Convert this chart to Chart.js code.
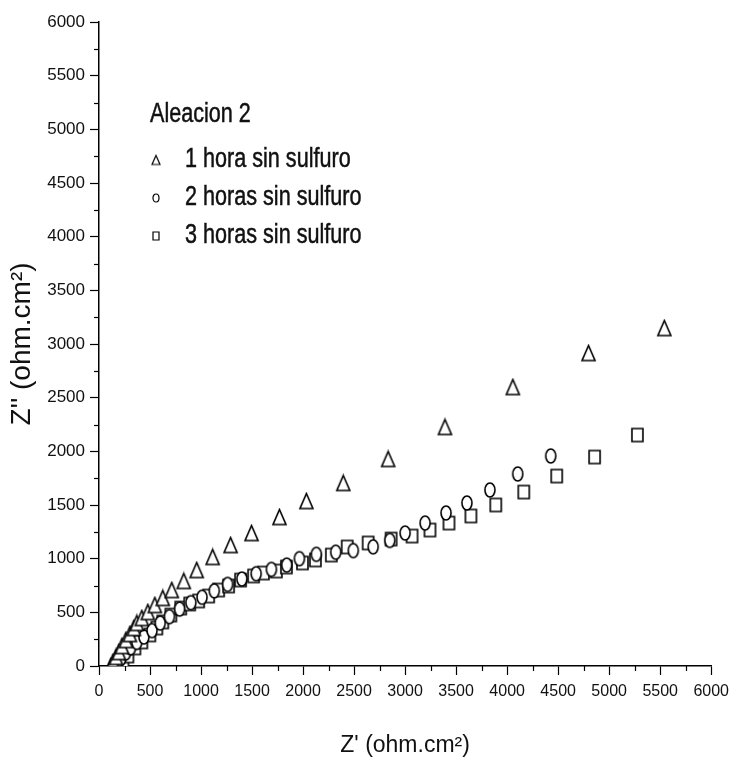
<!DOCTYPE html>
<html>
<head>
<meta charset="utf-8">
<script src="https://cdn.jsdelivr.net/npm/chart.js@4.4.1/dist/chart.umd.min.js"></script>
<style>
  html, body { margin: 0; padding: 0; background: #ffffff; }
  #wrap { width: 736px; height: 763px; position: relative; }
</style>
</head>
<body>
<div id="wrap"><canvas id="c" width="736" height="763"></canvas></div>
<script>
// ---- data ----
const legendTitle = 'Aleacion 2';
const seriesLabels = ['1 hora sin sulfuro', '2 horas sin sulfuro', '3 horas sin sulfuro'];
const xTitle = "Z' (ohm.cm²)";
const yTitle = "Z'' (ohm.cm²)";

const tri_x = [117,137,166,195,225,264,303,342,371,420,479,547,625,713,831,958,1114,1290,1495,1769,2033,2394,2834,3391,4056,4798,5541];
const tri_y = [0,37,84,130,186,242,298,354,401,447,503,568,634,708,792,894,1016,1127,1239,1388,1537,1705,1929,2227,2599,2916,3149];

const cir_x = [180,215,260,310,370,440,520,600,690,790,900,1010,1130,1260,1400,1540,1690,1840,1964,2130,2320,2492,2687,2850,3000,3196,3401,3606,3831,4104,4427];
const cir_y = [20,70,120,170,220,270,330,400,460,530,590,640,700,760,810,860,900,940,1000,1040,1060,1075,1110,1170,1239,1332,1426,1519,1640,1789,1957];

const sq_x = [235,283,352,420,498,567,625,704,801,889,977,1075,1173,1270,1388,1515,1612,1739,1837,1994,2121,2277,2433,2638,2863,3068,3244,3430,3645,3889,4163,4486,4857,5277];
const sq_y = [9,93,168,224,289,354,410,475,540,578,606,652,708,745,801,839,866,885,922,960,988,1034,1109,1146,1183,1211,1267,1332,1398,1500,1621,1770,1947,2152];

const xTicks = [0,500,1000,1500,2000,2500,3000,3500,4000,4500,5000,5500,6000];
const yTicks = [0,500,1000,1500,2000,2500,3000,3500,4000,4500,5000,5500,6000];

// ---- marker images ----
function makeMarker(shape, w, h, lw) {
  const pad = 2;
  const cv = document.createElement('canvas');
  cv.width = w + pad * 2; cv.height = h + pad * 2;
  const ctx = cv.getContext('2d');
  ctx.strokeStyle = '#000'; ctx.lineWidth = lw; ctx.fillStyle = '#fff';
  ctx.beginPath();
  if (shape === 'tri') {
    ctx.moveTo(pad + w / 2, pad);
    ctx.lineTo(pad + w, pad + h);
    ctx.lineTo(pad, pad + h);
    ctx.closePath();
  } else if (shape === 'cir') {
    ctx.ellipse(pad + w / 2, pad + h / 2, w / 2, h / 2, 0, 0, Math.PI * 2);
  } else {
    ctx.rect(pad, pad, w, h);
  }
  ctx.fill();
  ctx.stroke();
  return cv;
}
const triImg = makeMarker('tri', 13, 15, 1.6);
const cirImg = makeMarker('cir', 10, 14, 1.6);
const sqImg  = makeMarker('sq', 11, 13, 1.6);
const triLeg = makeMarker('tri', 8, 9, 1.2);
const cirLeg = makeMarker('cir', 6, 8, 1.2);
const sqLeg  = makeMarker('sq', 6, 8, 1.2);

function pts(xs, ys) { return xs.map((x, i) => ({ x: x, y: ys[i] })); }

const NORMAL = "'Liberation Sans', Arial, sans-serif";

// minor ticks + legend
const extras = {
  id: 'extras',
  afterDraw(chart) {
    const ctx = chart.ctx;
    const xs = chart.scales.x, ys = chart.scales.y;
    ctx.save();
    ctx.strokeStyle = '#000';
    ctx.lineWidth = 1.2;
    // minor ticks
    for (let v = 250; v < 6000; v += 500) {
      const px = Math.round(xs.getPixelForValue(v)) + 0.5;
      ctx.beginPath(); ctx.moveTo(px, xs.top); ctx.lineTo(px, xs.top + 5); ctx.stroke();
      const py = Math.round(ys.getPixelForValue(v)) + 0.5;
      ctx.beginPath(); ctx.moveTo(ys.right, py); ctx.lineTo(ys.right - 5, py); ctx.stroke();
    }
    // legend (condensed look)
    const area = chart.chartArea;
    const lx = area.left + 51, ly = area.top + 93;
    ctx.fillStyle = '#111';
    ctx.strokeStyle = '#111';
    ctx.lineWidth = 0.5;
    ctx.textBaseline = 'middle';
    ctx.textAlign = 'left';
    ctx.font = "27px " + NORMAL;
    const sx = 0.8;
    function txt(s, x, y) {
      ctx.save();
      ctx.translate(x, y);
      ctx.scale(sx, 1);
      ctx.fillText(s, 0, 0);
      ctx.strokeText(s, 0, 0);
      ctx.restore();
    }
    txt(legendTitle, lx, ly);
    const imgs = [triLeg, cirLeg, sqLeg];
    const rowY = [ly + 45, ly + 83, ly + 121];
    seriesLabels.forEach((lab, i) => {
      const im = imgs[i];
      ctx.drawImage(im, lx + 6 - im.width / 2, rowY[i] - im.height / 2);
      txt(lab, lx + 35, rowY[i]);
    });
    ctx.restore();
  }
};

new Chart(document.getElementById('c'), {
  type: 'scatter',
  data: {
    datasets: [
      { label: seriesLabels[0], data: pts(tri_x, tri_y), pointStyle: triImg, showLine: false },
      { label: seriesLabels[1], data: pts(cir_x, cir_y), pointStyle: cirImg, showLine: false },
      { label: seriesLabels[2], data: pts(sq_x, sq_y), pointStyle: sqImg, showLine: false }
    ]
  },
  options: {
    responsive: false,
    animation: false,
    devicePixelRatio: 1,
    layout: { padding: { top: 22, right: 23, left: 0, bottom: 0 } },
    plugins: { legend: { display: false }, tooltip: { enabled: false } },
    scales: {
      x: {
        type: 'linear', min: 0, max: 6000,
        afterBuildTicks(scale) { scale.ticks = xTicks.map(v => ({ value: v })); },
        afterFit(scale) { scale.height = 97; },
        border: { display: true, color: '#000', width: 1.5 },
        grid: { drawOnChartArea: false, drawTicks: true, tickLength: 9, tickColor: '#000', tickWidth: 1.2 },
        ticks: { color: '#111', font: { family: NORMAL, size: 16 }, padding: 7, maxRotation: 0, autoSkip: false,
                 callback: v => String(v) },
        title: { display: true, text: xTitle, color: '#111', font: { family: NORMAL, size: 23 }, padding: { top: 0, bottom: 4 } }
      },
      y: {
        type: 'linear', min: 0, max: 6000,
        afterBuildTicks(scale) { scale.ticks = yTicks.map(v => ({ value: v })); },
        afterFit(scale) { scale.width = 99; },
        border: { display: true, color: '#000', width: 1.5 },
        grid: { drawOnChartArea: false, drawTicks: true, tickLength: 9, tickColor: '#000', tickWidth: 1.2 },
        ticks: { color: '#111', font: { family: NORMAL, size: 17 }, padding: 5, autoSkip: false,
                 callback: v => String(v) },
        title: { display: true, text: yTitle, color: '#111', font: { family: NORMAL, size: 28 }, padding: { top: 5, bottom: 0 } }
      }
    }
  },
  plugins: [extras]
});
</script>
</body>
</html>
